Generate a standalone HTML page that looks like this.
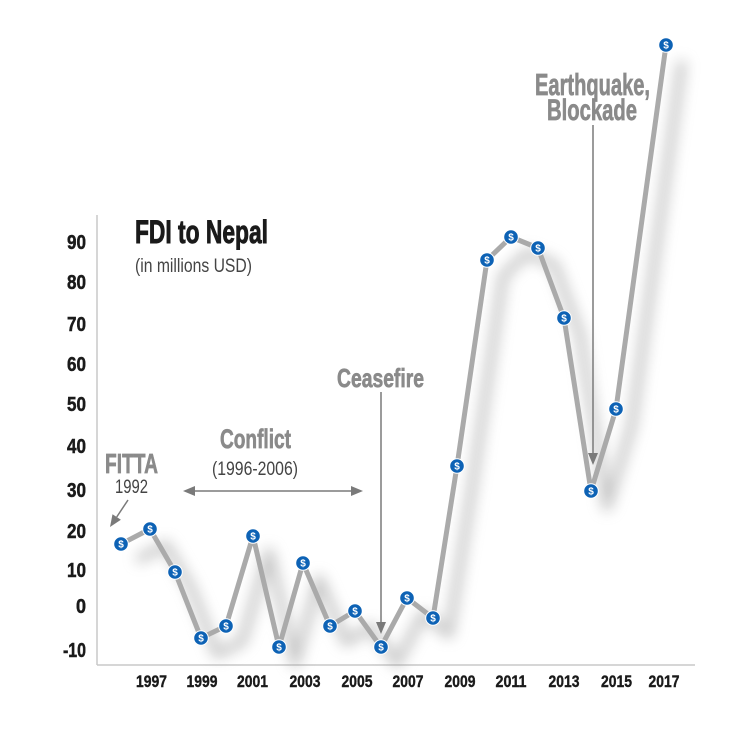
<!DOCTYPE html>
<html>
<head>
<meta charset="utf-8">
<style>
  html, body { margin:0; padding:0; background:#fff; }
  svg { display:block; }
  text { font-family: "Liberation Sans", "DejaVu Sans", sans-serif; }
</style>
</head>
<body>
<svg width="750" height="738" viewBox="0 0 750 738" xmlns="http://www.w3.org/2000/svg">
  <defs>
    <filter id="blur" filterUnits="userSpaceOnUse" x="0" y="0" width="750" height="738">
      <feGaussianBlur stdDeviation="7"/>
    </filter>
  </defs>
  <rect x="0" y="0" width="750" height="738" fill="#fff"/>

  <!-- axes -->
  <line x1="97" y1="215" x2="97" y2="665" stroke="#c8c8c8" stroke-width="1.5"/>
  <line x1="97" y1="665" x2="695" y2="665" stroke="#c8c8c8" stroke-width="1.5"/>

  <!-- y labels -->
  <g font-weight="bold" font-size="20" fill="#1a1a1a" stroke="#1a1a1a" stroke-width="0.5" text-anchor="end">
    <text x="86" y="249" textLength="19" lengthAdjust="spacingAndGlyphs">90</text>
    <text x="86" y="289" textLength="19" lengthAdjust="spacingAndGlyphs">80</text>
    <text x="86" y="331" textLength="19" lengthAdjust="spacingAndGlyphs">70</text>
    <text x="86" y="371" textLength="19" lengthAdjust="spacingAndGlyphs">60</text>
    <text x="86" y="411" textLength="19" lengthAdjust="spacingAndGlyphs">50</text>
    <text x="86" y="453" textLength="19" lengthAdjust="spacingAndGlyphs">40</text>
    <text x="86" y="497" textLength="19" lengthAdjust="spacingAndGlyphs">30</text>
    <text x="86" y="538" textLength="19" lengthAdjust="spacingAndGlyphs">20</text>
    <text x="86" y="577" textLength="19" lengthAdjust="spacingAndGlyphs">10</text>
    <text x="86" y="613" textLength="10" lengthAdjust="spacingAndGlyphs">0</text>
    <text x="86" y="657" textLength="23" lengthAdjust="spacingAndGlyphs">-10</text>
  </g>

  <!-- x labels -->
  <g font-weight="bold" font-size="17" fill="#1a1a1a" stroke="#1a1a1a" stroke-width="0.4" text-anchor="middle">
    <text x="151.5" y="687" textLength="31" lengthAdjust="spacingAndGlyphs">1997</text>
    <text x="202" y="687" textLength="31" lengthAdjust="spacingAndGlyphs">1999</text>
    <text x="252.5" y="687" textLength="31" lengthAdjust="spacingAndGlyphs">2001</text>
    <text x="305" y="687" textLength="31" lengthAdjust="spacingAndGlyphs">2003</text>
    <text x="357" y="687" textLength="31" lengthAdjust="spacingAndGlyphs">2005</text>
    <text x="408" y="687" textLength="31" lengthAdjust="spacingAndGlyphs">2007</text>
    <text x="460" y="687" textLength="31" lengthAdjust="spacingAndGlyphs">2009</text>
    <text x="511" y="687" textLength="31" lengthAdjust="spacingAndGlyphs">2011</text>
    <text x="564" y="687" textLength="31" lengthAdjust="spacingAndGlyphs">2013</text>
    <text x="616.5" y="687" textLength="31" lengthAdjust="spacingAndGlyphs">2015</text>
    <text x="664" y="687" textLength="31" lengthAdjust="spacingAndGlyphs">2017</text>
  </g>

  <!-- title -->
  <text x="135" y="243" font-size="32" font-weight="bold" fill="#1a1a1a" stroke="#1a1a1a" stroke-width="0.9" textLength="133" lengthAdjust="spacingAndGlyphs">FDI to Nepal</text>
  <text x="135" y="272" font-size="19" fill="#444" textLength="117" lengthAdjust="spacingAndGlyphs">(in millions USD)</text>

  <!-- shadow -->
  <g transform="translate(16,16)" filter="url(#blur)" opacity="0.5">
    <polyline fill="none" stroke="#8a8a8a" stroke-width="9" stroke-linejoin="round"
      points="121,544 150,529 175,572 201,638 226,626 253,536 279,647 303,563 330,626 355,611 381,647 407,598 433,618 457,466 487,260 511,237 538,248 564,318 591,491 616,409 666,45"/>
  </g>

  <!-- annotations -->
  <g fill="#8a8a8a" stroke="#8a8a8a" stroke-width="0.7" font-weight="bold">
    <text x="105" y="473" font-size="28" textLength="53" lengthAdjust="spacingAndGlyphs">FITTA</text>
    <text x="220" y="448" font-size="27" textLength="71" lengthAdjust="spacingAndGlyphs">Conflict</text>
    <text x="337" y="387" font-size="26" textLength="87" lengthAdjust="spacingAndGlyphs">Ceasefire</text>
    <text x="535" y="95" font-size="31" textLength="115" lengthAdjust="spacingAndGlyphs">Earthquake,</text>
    <text x="547" y="120" font-size="30" textLength="90" lengthAdjust="spacingAndGlyphs">Blockade</text>
  </g>
  <text x="115" y="493" font-size="19" fill="#444" textLength="33" lengthAdjust="spacingAndGlyphs">1992</text>
  <text x="212" y="475" font-size="19" fill="#444" textLength="86" lengthAdjust="spacingAndGlyphs">(1996-2006)</text>

  <!-- arrows -->
  <g stroke="#7a7a7a" stroke-width="1.5" fill="none">
    <line x1="128" y1="500" x2="116.7" y2="517"/>
    <line x1="192" y1="491" x2="354" y2="491"/>
    <line x1="381" y1="392" x2="381" y2="624"/>
    <line x1="593" y1="125" x2="593" y2="455"/>
  </g>
  <g fill="#7a7a7a">
    <polygon points="110,527 120.9,519.8 112.5,514.2"/>
    <polygon points="183,491 195,486 195,496"/>
    <polygon points="363,491 351,486 351,496"/>
    <polygon points="376,622 386,622 381,634"/>
    <polygon points="588,453 598,453 593,465"/>
  </g>

  <!-- line -->
  <polyline fill="none" stroke="#aaaaaa" stroke-width="5" stroke-linejoin="round"
    points="121,544 150,529 175,572 201,638 226,626 253,536 279,647 303,563 330,626 355,611 381,647 407,598 433,618 457,466 487,260 511,237 538,248 564,318 591,491 616,409 666,45"/>

  <!-- markers -->
  <g font-size="10" font-weight="bold" fill="#fff" text-anchor="middle">
    <g><circle cx="121" cy="544" r="7.3" fill="#0d62b5" stroke="#fff" stroke-width="1"/><text x="121" y="547.5">$</text></g>
    <g><circle cx="150" cy="529" r="7.3" fill="#0d62b5" stroke="#fff" stroke-width="1"/><text x="150" y="532.5">$</text></g>
    <g><circle cx="175" cy="572" r="7.3" fill="#0d62b5" stroke="#fff" stroke-width="1"/><text x="175" y="575.5">$</text></g>
    <g><circle cx="201" cy="638" r="7.3" fill="#0d62b5" stroke="#fff" stroke-width="1"/><text x="201" y="641.5">$</text></g>
    <g><circle cx="226" cy="626" r="7.3" fill="#0d62b5" stroke="#fff" stroke-width="1"/><text x="226" y="629.5">$</text></g>
    <g><circle cx="253" cy="536" r="7.3" fill="#0d62b5" stroke="#fff" stroke-width="1"/><text x="253" y="539.5">$</text></g>
    <g><circle cx="279" cy="647" r="7.3" fill="#0d62b5" stroke="#fff" stroke-width="1"/><text x="279" y="650.5">$</text></g>
    <g><circle cx="303" cy="563" r="7.3" fill="#0d62b5" stroke="#fff" stroke-width="1"/><text x="303" y="566.5">$</text></g>
    <g><circle cx="330" cy="626" r="7.3" fill="#0d62b5" stroke="#fff" stroke-width="1"/><text x="330" y="629.5">$</text></g>
    <g><circle cx="355" cy="611" r="7.3" fill="#0d62b5" stroke="#fff" stroke-width="1"/><text x="355" y="614.5">$</text></g>
    <g><circle cx="381" cy="647" r="7.3" fill="#0d62b5" stroke="#fff" stroke-width="1"/><text x="381" y="650.5">$</text></g>
    <g><circle cx="407" cy="598" r="7.3" fill="#0d62b5" stroke="#fff" stroke-width="1"/><text x="407" y="601.5">$</text></g>
    <g><circle cx="433" cy="618" r="7.3" fill="#0d62b5" stroke="#fff" stroke-width="1"/><text x="433" y="621.5">$</text></g>
    <g><circle cx="457" cy="466" r="7.3" fill="#0d62b5" stroke="#fff" stroke-width="1"/><text x="457" y="469.5">$</text></g>
    <g><circle cx="487" cy="260" r="7.3" fill="#0d62b5" stroke="#fff" stroke-width="1"/><text x="487" y="263.5">$</text></g>
    <g><circle cx="511" cy="237" r="7.3" fill="#0d62b5" stroke="#fff" stroke-width="1"/><text x="511" y="240.5">$</text></g>
    <g><circle cx="538" cy="248" r="7.3" fill="#0d62b5" stroke="#fff" stroke-width="1"/><text x="538" y="251.5">$</text></g>
    <g><circle cx="564" cy="318" r="7.3" fill="#0d62b5" stroke="#fff" stroke-width="1"/><text x="564" y="321.5">$</text></g>
    <g><circle cx="591" cy="491" r="7.3" fill="#0d62b5" stroke="#fff" stroke-width="1"/><text x="591" y="494.5">$</text></g>
    <g><circle cx="616" cy="409" r="7.3" fill="#0d62b5" stroke="#fff" stroke-width="1"/><text x="616" y="412.5">$</text></g>
    <g><circle cx="666" cy="45" r="7.3" fill="#0d62b5" stroke="#fff" stroke-width="1"/><text x="666" y="48.5">$</text></g>
  </g>
</svg>
</body>
</html>
